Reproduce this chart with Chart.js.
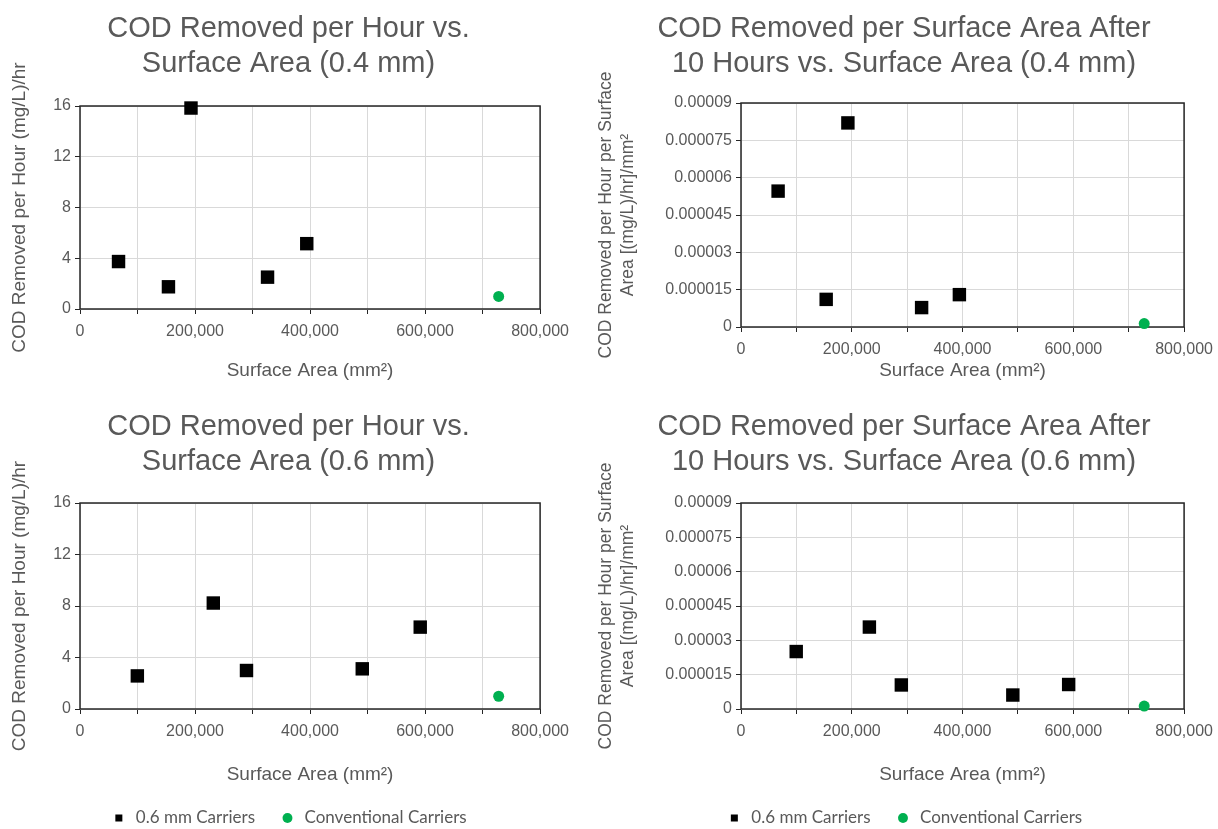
<!DOCTYPE html>
<html>
<head>
<meta charset="utf-8">
<script src="https://cdn.jsdelivr.net/npm/chart.js@4.4.1/dist/chart.umd.min.js"></script>
<style>
  body { margin: 0; background: #fff; width: 1218px; height: 829px; position: relative; overflow: hidden; }
  canvas { position: absolute; }
</style>
</head>
<body>
<canvas id="c1" width="577" height="400" style="left:0;top:0"></canvas>
<canvas id="c2" width="634" height="400" style="left:587px;top:0"></canvas>
<canvas id="c3" width="577" height="437" style="left:0;top:400px"></canvas>
<canvas id="c4" width="634" height="437" style="left:587px;top:400px"></canvas>
<script>
// Data
const seriesNames = ['0.6 mm Carriers', 'Conventional Carriers'];

const surfaceTicks = [0, 200000, 400000, 600000, 800000];
const rateTicks = [0, 4, 8, 12, 16];
const perAreaTicks = [0, 0.000015, 0.00003, 0.000045, 0.00006, 0.000075, 0.00009];

// surface area (mm2) of each carrier set
const area04 = [67000, 153800, 193000, 326100, 394300];
const area06 = [99700, 231800, 289500, 490800, 591600];
const areaConv = [728000];

// COD removed per hour (mg/L)/hr
const rate04 = [3.74, 1.75, 15.84, 2.51, 5.15];
const rate06 = [2.57, 8.23, 2.99, 3.12, 6.36];
const rateConv04 = [0.99];
const rateConv06 = [0.99];

// COD removed per hour per surface area
const perArea04 = [0.0000546, 0.0000111, 0.0000820, 0.0000078, 0.0000130];
const perArea06 = [0.0000251, 0.0000358, 0.0000105, 0.0000061, 0.0000107];
const perAreaConv04 = [0.0000014];
const perAreaConv06 = [0.0000013];

const grey = '#595959';
const fontFamily = "'Liberation Sans', Arial, sans-serif";

// dark box round the plot area
const frame = {
    id: 'frame',
    beforeDatasetsDraw(chart) {
        const { ctx, chartArea: a } = chart;
        ctx.save();
        ctx.strokeStyle = '#262626';
        ctx.lineWidth = 1.5;
        ctx.strokeRect(a.left, a.top, a.right - a.left, a.bottom - a.top);
        ctx.restore();
    }
};

function toPoints(xs, ys) {
    return xs.map((x, i) => ({ x: x, y: ys[i] }));
}

// add the unlabeled half steps between labeled ticks
function withMinor(ticks) {
    const out = [];
    ticks.forEach((t, i) => {
        if (i > 0) out.push((ticks[i - 1] + t) / 2);
        out.push(t);
    });
    return out;
}

function fmtRate(v) {
    return String(v);
}

function fmtPerArea(v) {
    if (v === 0) return '0';
    return v.toFixed(6).replace(/0+$/, '');
}

function makeChart(id, cfg) {
    const gridOpts = { color: '#d9d9d9', tickColor: '#262626', tickLength: 5, lineWidth: 1 };
    const tickFont = { family: fontFamily, size: 16 };
    const axisTitleFont = { family: fontFamily, size: 19, lineHeight: '22px' };

    return new Chart(document.getElementById(id), {
        type: 'scatter',
        data: {
            datasets: [
                {
                    label: seriesNames[0],
                    data: toPoints(cfg.xs, cfg.ys),
                    pointStyle: 'rect',
                    pointRadius: 9.5,
                    backgroundColor: '#000',
                    borderColor: '#000',
                    borderWidth: 0,
                    clip: false
                },
                {
                    label: seriesNames[1],
                    data: toPoints(areaConv, cfg.conv),
                    pointStyle: 'circle',
                    pointRadius: 5.5,
                    backgroundColor: '#00b050',
                    borderColor: '#00b050',
                    borderWidth: 0,
                    clip: false
                }
            ]
        },
        options: {
            responsive: false,
            animation: false,
            layout: { padding: { bottom: cfg.padBottom } },
            plugins: {
                title: {
                    display: true,
                    text: cfg.title,
                    color: grey,
                    font: { family: fontFamily, size: 29, weight: 'normal', lineHeight: '35px' },
                    padding: cfg.titlePad
                },
                legend: {
                    display: !!cfg.legend,
                    position: 'bottom',
                    labels: {
                        usePointStyle: true,
                        boxHeight: 7,
                        padding: 24,
                        color: grey,
                        font: { family: 'Lato', size: 17 }
                    }
                },
                tooltip: { enabled: false }
            },
            scales: {
                x: {
                    type: 'linear',
                    min: surfaceTicks[0],
                    max: surfaceTicks[surfaceTicks.length - 1],
                    afterBuildTicks: axis => { axis.ticks = withMinor(surfaceTicks).map(v => ({ value: v })); },
                    afterFit: axis => { axis.height = cfg.xHeight; },
                    grid: gridOpts,
                    border: { display: false },
                    ticks: {
                        autoSkip: false,
                        maxRotation: 0,
                        color: grey,
                        font: tickFont,
                        padding: 8,
                        callback: v => surfaceTicks.includes(v) ? v.toLocaleString('en-US') : ''
                    },
                    title: {
                        display: true,
                        text: 'Surface Area (mm²)',
                        color: grey,
                        font: axisTitleFont,
                        padding: { top: 0, bottom: cfg.xTitlePad }
                    }
                },
                y: {
                    min: cfg.yTicks[0],
                    max: cfg.yTicks[cfg.yTicks.length - 1],
                    afterBuildTicks: axis => { axis.ticks = cfg.yTicks.map(v => ({ value: v })); },
                    afterFit: axis => { axis.width = cfg.yWidth; },
                    grid: gridOpts,
                    border: { display: false },
                    ticks: { color: grey, font: tickFont, padding: 4, callback: cfg.yFmt },
                    title: {
                        display: true,
                        text: cfg.yTitle,
                        color: grey,
                        font: { family: fontFamily, size: cfg.yTitleSize, lineHeight: '22px' },
                        padding: { top: cfg.yTitlePad, bottom: 0 }
                    }
                }
            }
        },
        plugins: [frame]
    });
}

const rateTitle = 'COD Removed per Hour (mg/L)/hr';
const perAreaTitle = ['COD Removed per Hour per Surface', 'Area [(mg/L)/hr]/mm²'];

makeChart('c1', {
    title: ['COD Removed per Hour vs.', 'Surface Area (0.4 mm)'],
    xs: area04, ys: rate04, conv: rateConv04,
    yTicks: rateTicks, yFmt: fmtRate, yTitle: rateTitle, yTitleSize: 19,
    titlePad: { top: 11.5, bottom: 24.5 },
    yWidth: 80, yTitlePad: 9,
    xHeight: 73, xTitlePad: 0, padBottom: 18
});

makeChart('c2', {
    title: ['COD Removed per Surface Area After', '10 Hours vs. Surface Area (0.4 mm)'],
    xs: area04, ys: perArea04, conv: perAreaConv04,
    yTicks: perAreaTicks, yFmt: fmtPerArea, yTitle: perAreaTitle, yTitleSize: 17.5,
    titlePad: { top: 11.5, bottom: 21.5 },
    yWidth: 154, yTitlePad: 8,
    xHeight: 55, xTitlePad: 0, padBottom: 18
});

makeChart('c3', {
    title: ['COD Removed per Hour vs.', 'Surface Area (0.6 mm)'],
    xs: area06, ys: rate06, conv: rateConv06,
    yTicks: rateTicks, yFmt: fmtRate, yTitle: rateTitle, yTitleSize: 19,
    titlePad: { top: 9.5, bottom: 23.5 },
    yWidth: 80, yTitlePad: 9,
    xHeight: 76.5, xTitlePad: 0, padBottom: 0.5,
    legend: true
});

makeChart('c4', {
    title: ['COD Removed per Surface Area After', '10 Hours vs. Surface Area (0.6 mm)'],
    xs: area06, ys: perArea06, conv: perAreaConv06,
    yTicks: perAreaTicks, yFmt: fmtPerArea, yTitle: perAreaTitle, yTitleSize: 17.5,
    titlePad: { top: 9.5, bottom: 23.5 },
    yWidth: 154, yTitlePad: 8,
    xHeight: 76.5, xTitlePad: 0, padBottom: 0.5,
    legend: true
});
</script>
</body>
</html>
